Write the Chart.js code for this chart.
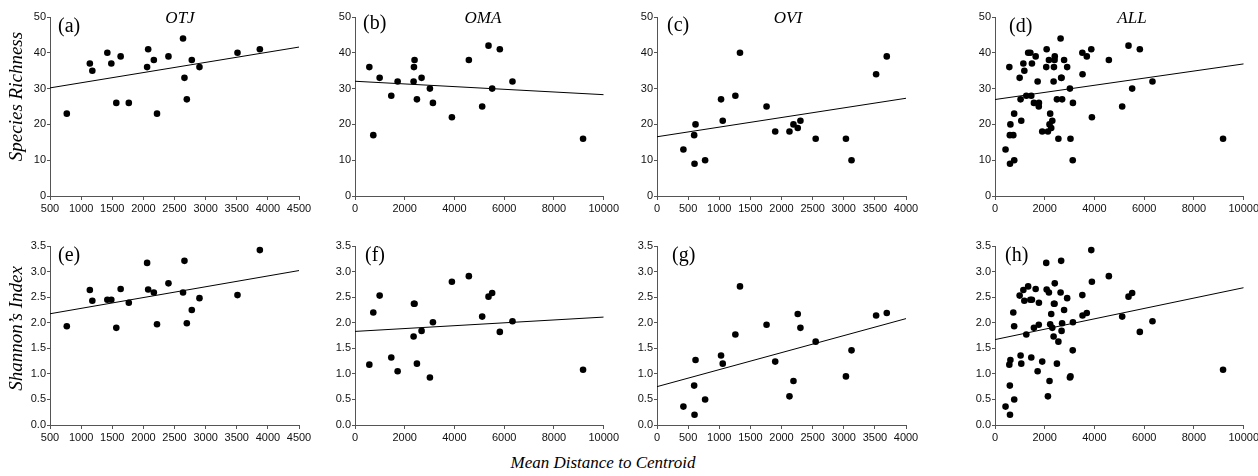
<!DOCTYPE html>
<html><head><meta charset="utf-8">
<script src="https://cdn.jsdelivr.net/npm/chart.js@4.4.0/dist/chart.umd.min.js"></script>
<style>
html,body{margin:0;padding:0;background:#fff;overflow:hidden;}
#wrap{position:relative;width:1258px;height:476px;overflow:hidden;}
canvas{position:absolute;}
#xtitle{position:absolute;left:453px;width:300px;top:453px;line-height:20px;text-align:center;font:italic 17px "Liberation Serif",serif;color:#000;}
</style></head><body>
<div id="wrap">
<canvas id="ca"></canvas><canvas id="cb"></canvas><canvas id="cc"></canvas><canvas id="cd"></canvas>
<canvas id="ce"></canvas><canvas id="cf"></canvas><canvas id="cg"></canvas><canvas id="ch"></canvas>
<div id="xtitle">Mean Distance to Centroid</div>
</div>
<script>
// ---- data ----
const otjDist = [770, 1140, 1180, 1421, 1485, 1565, 1635, 1766, 2060, 2077, 2168, 2219, 2403, 2637, 2660, 2698, 2778, 2901, 3512, 3871];
const otjRich = [23, 37, 35, 40, 37, 26, 39, 26, 36, 41, 38, 23, 39, 44, 33, 27, 38, 36, 40, 41];
const otjShan = [1.93, 2.64, 2.43, 2.45, 2.45, 1.90, 2.66, 2.39, 3.17, 2.65, 2.59, 1.97, 2.77, 2.59, 3.21, 1.99, 2.25, 2.48, 2.54, 3.42];

const omaDist = [576, 736, 991, 1459, 1714, 2356, 2370, 2395, 2490, 2677, 3012, 3133, 3896, 4578, 5114, 5368, 5515, 5823, 6332, 9170];
const omaRich = [36, 17, 33, 28, 32, 32, 36, 38, 27, 33, 30, 26, 22, 38, 25, 42, 30, 41, 32, 16];
const omaShan = [1.18, 2.20, 2.53, 1.32, 1.05, 1.73, 2.37, 2.37, 1.20, 1.84, 0.93, 2.01, 2.80, 2.91, 2.12, 2.51, 2.58, 1.82, 2.03, 1.08];

const oviDist = [424, 597, 603, 619, 773, 1029, 1056, 1259, 1333, 1760, 1899, 2128, 2192, 2261, 2304, 2549, 3035, 3125, 3520, 3691];
const oviRich = [13, 17, 9, 20, 10, 27, 21, 28, 40, 25, 18, 18, 20, 19, 21, 16, 16, 10, 34, 39];
const oviShan = [0.36, 0.77, 0.20, 1.27, 0.50, 1.36, 1.20, 1.77, 2.71, 1.96, 1.24, 0.56, 0.86, 2.17, 1.90, 1.63, 0.95, 1.46, 2.14, 2.19];

const allDist = [...otjDist, ...omaDist, ...oviDist];
const allRich = [...otjRich, ...omaRich, ...oviRich];
const allShan = [...otjShan, ...omaShan, ...oviShan];

// regression line values at the left and right ends of each x axis
const otjRichTrend = [30.2, 41.6];
const omaRichTrend = [32.05, 28.3];
const oviRichTrend = [16.55, 27.3];
const allRichTrend = [26.95, 36.9];
const otjShanTrend = [2.175, 3.02];
const omaShanTrend = [1.83, 2.11];
const oviShanTrend = [0.75, 2.08];
const allShanTrend = [1.67, 2.685];

// tick labels
const xTicksOtj = [500, 1000, 1500, 2000, 2500, 3000, 3500, 4000, 4500];
const xTicksWide = [0, 2000, 4000, 6000, 8000, 10000];
const xTicksOvi = [0, 500, 1000, 1500, 2000, 2500, 3000, 3500, 4000];
const yTicksRich = [0, 10, 20, 30, 40, 50];
const yTicksShan = [0, 0.5, 1.0, 1.5, 2.0, 2.5, 3.0, 3.5];

const panelLetters = ['(a)', '(b)', '(c)', '(d)', '(e)', '(f)', '(g)', '(h)'];
const siteNames = ['OTJ', 'OMA', 'OVI', 'ALL'];
const yTitles = ['Species Richness', 'Shannon\u2019s Index'];

// ---- layout ----
const PLOT_W = 249, PLOT_H = 179, XH = 28;
const cols = [{left:50, yw:50}, {left:355, yw:40}, {left:657, yw:40}, {left:995, yw:40}];
const rows = [{ctop:0, pt:17}, {ctop:228, pt:18}];
const PR = 17;
const letterOff = [[8,15],[8,12],[10,14],[14,15],[8,15],[10,15],[15,15],[10,15]];
const siteOff = [130, 128, 131, 137];
const yTitleOff = [-10, -7];

const AXIS = '#555', TXT = '#111';
const SANS = '"Liberation Sans", Arial, sans-serif';
const SERIF = '"Liberation Serif", "Times New Roman", serif';

const annot = {
  id: 'annot',
  afterDraw(chart, args, o) {
    const ctx = chart.ctx, ca = chart.chartArea;
    ctx.save();
    ctx.fillStyle = '#000';
    ctx.textBaseline = 'alphabetic';
    ctx.font = '20px ' + SERIF;
    ctx.textAlign = 'left';
    ctx.fillText(o.letter, ca.left + o.lx, ca.top + o.ly);
    if (o.site) {
      ctx.font = 'italic 17px ' + SERIF;
      ctx.textAlign = 'center';
      ctx.fillText(o.site, ca.left + o.sx, ca.top + 6);
    }
    if (o.ytitle) {
      ctx.translate(17, (ca.top + ca.bottom) / 2 + o.ty);
      ctx.rotate(-Math.PI / 2);
      ctx.font = 'italic 19px ' + SERIF;
      ctx.textAlign = 'center';
      ctx.textBaseline = 'middle';
      ctx.fillText(o.ytitle, 0, 0);
    }
    ctx.restore();
  }
};

function makeChart(idx, xs, ys, trend, xt, yt, yFmt) {
  const col = idx % 4, row = Math.floor(idx / 4);
  const c = cols[col], r = rows[row];
  const cv = document.getElementById('c' + 'abcdefgh'[idx]);
  const w = c.yw + PLOT_W + PR, h = r.pt + PLOT_H + XH;
  cv.width = w; cv.height = h;
  cv.style.left = (c.left - c.yw) + 'px';
  cv.style.top = r.ctop + 'px';
  cv.style.width = w + 'px'; cv.style.height = h + 'px';
  const xmin = xt[0], xmax = xt[xt.length - 1];
  new Chart(cv, {
    type: 'scatter',
    data: {
      datasets: [
        {
          data: xs.map((v, i) => ({x: v, y: ys[i]})),
          pointRadius: 3.3, pointHoverRadius: 3.3,
          backgroundColor: '#000', borderWidth: 0, order: 1
        },
        {
          type: 'line',
          data: [{x: xmin, y: trend[0]}, {x: xmax, y: trend[1]}],
          borderColor: '#000', borderWidth: 1, pointRadius: 0,
          fill: false, tension: 0, order: 2
        }
      ]
    },
    options: {
      responsive: false, animation: false, events: [],
      layout: {padding: {top: r.pt, right: PR, left: 0, bottom: 0}},
      plugins: {
        legend: {display: false}, tooltip: {enabled: false},
        annot: {
          letter: panelLetters[idx], lx: letterOff[idx][0], ly: letterOff[idx][1],
          site: row === 0 ? siteNames[col] : null, sx: siteOff[col],
          ytitle: col === 0 ? yTitles[row] : null, ty: yTitleOff[row]
        }
      },
      scales: {
        x: {
          type: 'linear', min: xmin, max: xmax,
          afterBuildTicks: s => { s.ticks = xt.map(v => ({value: v})); },
          afterFit: s => { s.height = XH; },
          ticks: {font: {family: SANS, size: 11}, color: TXT, padding: 2, autoSkip: false, maxRotation: 0, minRotation: 0, callback: v => String(v)},
          grid: {display: true, drawOnChartArea: false, drawTicks: true, tickLength: 4, tickColor: AXIS},
          border: {display: true, color: AXIS, width: 1}
        },
        y: {
          type: 'linear', min: yt[0], max: yt[yt.length - 1],
          afterBuildTicks: s => { s.ticks = yt.map(v => ({value: v})); },
          afterFit: s => { s.width = c.yw; },
          ticks: {font: {family: SANS, size: 11}, color: TXT, padding: 1, autoSkip: false, callback: yFmt},
          grid: {display: true, drawOnChartArea: false, drawTicks: true, tickLength: 3, tickColor: AXIS},
          border: {display: true, color: AXIS, width: 1}
        }
      }
    },
    plugins: [annot]
  });
}

const fInt = v => String(v);
const fDec = v => Number(v).toFixed(1);

makeChart(0, otjDist, otjRich, otjRichTrend, xTicksOtj, yTicksRich, fInt);
makeChart(1, omaDist, omaRich, omaRichTrend, xTicksWide, yTicksRich, fInt);
makeChart(2, oviDist, oviRich, oviRichTrend, xTicksOvi, yTicksRich, fInt);
makeChart(3, allDist, allRich, allRichTrend, xTicksWide, yTicksRich, fInt);
makeChart(4, otjDist, otjShan, otjShanTrend, xTicksOtj, yTicksShan, fDec);
makeChart(5, omaDist, omaShan, omaShanTrend, xTicksWide, yTicksShan, fDec);
makeChart(6, oviDist, oviShan, oviShanTrend, xTicksOvi, yTicksShan, fDec);
makeChart(7, allDist, allShan, allShanTrend, xTicksWide, yTicksShan, fDec);
</script>
</body></html>
